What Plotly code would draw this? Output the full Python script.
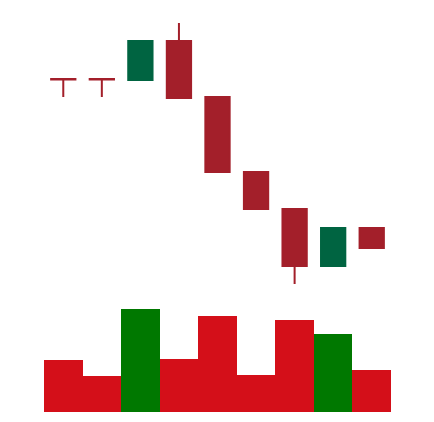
import plotly.graph_objects as go

categories = ["1", "2", "3", "4", "5", "6", "7", "8", "9"]
opens  = [72.1, 72.1, 72.0, 75.9, 70.3, 62.8, 59.1, 53.4, 57.2]
highs  = [72.1, 72.1, 75.9, 77.7, 70.3, 62.8, 59.1, 57.2, 57.2]
lows   = [70.3, 70.3, 72.0, 70.2, 62.8, 59.1, 51.6, 53.4, 55.2]
closes = [72.05, 72.05, 75.9, 70.2, 62.8, 59.1, 53.4, 57.2, 55.2]
volumes = [5200, 3600, 10300, 5300, 9600, 3700, 9200, 7800, 4200]

RED_C = "#a31f2a"
GREEN_C = "#006441"
RED_V = "#d40f19"
GREEN_V = "#007800"

vol_colors = [GREEN_V if c > o else RED_V for o, c in zip(opens, closes)]

fig = go.Figure()
fig.add_trace(go.Candlestick(
    x=categories, open=opens, high=highs, low=lows, close=closes,
    increasing=dict(line=dict(color=GREEN_C, width=2), fillcolor=GREEN_C),
    decreasing=dict(line=dict(color=RED_C, width=2), fillcolor=RED_C),
    yaxis="y", xaxis="x", showlegend=False,
))
fig.add_trace(go.Bar(
    x=categories, y=volumes, marker=dict(color=vol_colors, line=dict(width=0)),
    yaxis="y2", xaxis="x", showlegend=False,
))

axis_off = dict(showgrid=False, zeroline=False, showticklabels=False, showline=False, ticks="")
fig.update_layout(
    width=434, height=422,
    margin=dict(l=44, r=43, t=0, b=10),
    paper_bgcolor="white", plot_bgcolor="white",
    bargap=0,
    boxgap=0.1,
    xaxis=dict(type="category", range=[-0.5, 8.5], rangeslider=dict(visible=False), **axis_off),
    yaxis=dict(domain=[112 / 412, 1], range=[50, 80], **axis_off),
    yaxis2=dict(domain=[0, 112 / 412], range=[0, 11200], **axis_off),
)
fig.write_html("out.html")
